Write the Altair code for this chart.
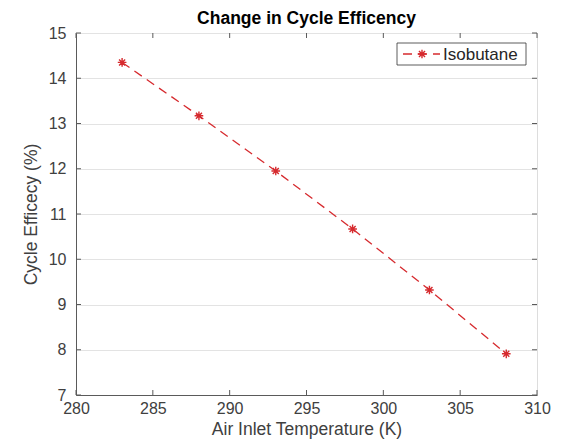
import altair as alt
import pandas as pd

temps = [283, 288, 293, 298, 303, 308]
eff = [14.35, 13.17, 11.95, 10.67, 9.32, 7.91]
series = ["Isobutane"]
x_ticks = [280, 285, 290, 295, 300, 305, 310]
y_ticks = [7, 8, 9, 10, 11, 12, 13, 14, 15]

W, H = 461, 362
RED = "#D62A2E"
AX = "#5a5a5a"
FONT = "Liberation Sans"
STAR = "M-1,0L1,0M0,-1L0,1M-0.7,-0.7L0.7,0.7M-0.7,0.7L0.7,-0.7"

df = pd.DataFrame({"T": temps, "E": eff, "s": series[0]})
xs = alt.Scale(domain=[280, 310], nice=False, zero=False)
ys = alt.Scale(domain=[7, 15], nice=False, zero=False)

xax = alt.Axis(values=x_ticks, tickSize=0, grid=False, domainColor=AX, labelFont=FONT,
               labelFontSize=16, labelColor="#404040", labelPadding=5, labelFlush=False,
               titleFont=FONT, titleFontSize=17.5, titleFontWeight="normal", titleColor="#404040",
               titlePadding=4, format="d")
yax = alt.Axis(values=y_ticks, tickSize=0, grid=True, gridColor="#e3e3e3", domainColor=AX,
               labelFont=FONT, labelFontSize=16, labelColor="#404040", labelPadding=10, labelFlush=False,
               titleFont=FONT, titleFontSize=17.5, titleFontWeight="normal", titleColor="#404040",
               titlePadding=8, format="d")

base = alt.Chart(df)
line = base.mark_line(color=RED, strokeDash=[9, 6], strokeWidth=1.3).encode(
    x=alt.X("T:Q", scale=xs, axis=xax, title="Air Inlet Temperature (K)"),
    y=alt.Y("E:Q", scale=ys, axis=yax, title="Cycle Efficecy (%)"),
)
pts = base.mark_point(shape=STAR, color=RED, filled=False, size=75, strokeWidth=1.4, opacity=1).encode(
    x=alt.X("T:Q", scale=xs), y=alt.Y("E:Q", scale=ys)
)

xt = pd.DataFrame({"v": x_ticks})
yt = pd.DataFrame({"v": y_ticks})
tick_style = dict(color=AX, strokeWidth=1)
xb = alt.Chart(xt).mark_rule(**tick_style).encode(x=alt.X("v:Q", scale=xs), y=alt.value(H), y2=alt.value(H - 5))
xtp = alt.Chart(xt).mark_rule(**tick_style).encode(x=alt.X("v:Q", scale=xs), y=alt.value(0), y2=alt.value(5))
yl = alt.Chart(yt).mark_rule(**tick_style).encode(y=alt.Y("v:Q", scale=ys), x=alt.value(0), x2=alt.value(5))
yr = alt.Chart(yt).mark_rule(**tick_style).encode(y=alt.Y("v:Q", scale=ys), x=alt.value(W), x2=alt.value(W - 5))

leg_df = pd.DataFrame({"name": series})
leg_box = alt.Chart(leg_df).mark_rect(fill="white", stroke="#333333", strokeWidth=0.8).encode(
    x=alt.value(321), x2=alt.value(450), y=alt.value(10), y2=alt.value(32))
leg_line = alt.Chart(leg_df).mark_rule(color=RED, strokeDash=[9, 6], strokeWidth=1.3).encode(
    x=alt.value(327), x2=alt.value(364), y=alt.value(21))
leg_pt = alt.Chart(leg_df).mark_point(shape=STAR, color=RED, filled=False, size=75, strokeWidth=1.4, opacity=1).encode(
    x=alt.value(346), y=alt.value(21))
leg_txt = alt.Chart(leg_df).mark_text(align="left", baseline="middle", font=FONT, fontSize=17, color="#262626").encode(
    x=alt.value(367), y=alt.value(21.5), text="name:N")

chart = alt.layer(line, pts, xb, xtp, yl, yr, leg_box, leg_line, leg_pt, leg_txt).properties(
    width=W, height=H,
    title=alt.Title("Change in Cycle Efficency", font=FONT, fontSize=17.5, fontWeight="bold",
                    color="#000000", anchor="middle", offset=-2),
    padding={"left": 76, "top": 33, "right": 34, "bottom": 49},
    autosize=alt.AutoSizeParams(type="none"),
).configure_view(stroke=AX, strokeWidth=1).configure(background="white")

chart.save("out.html", embed_options={"renderer": "svg", "actions": False})
